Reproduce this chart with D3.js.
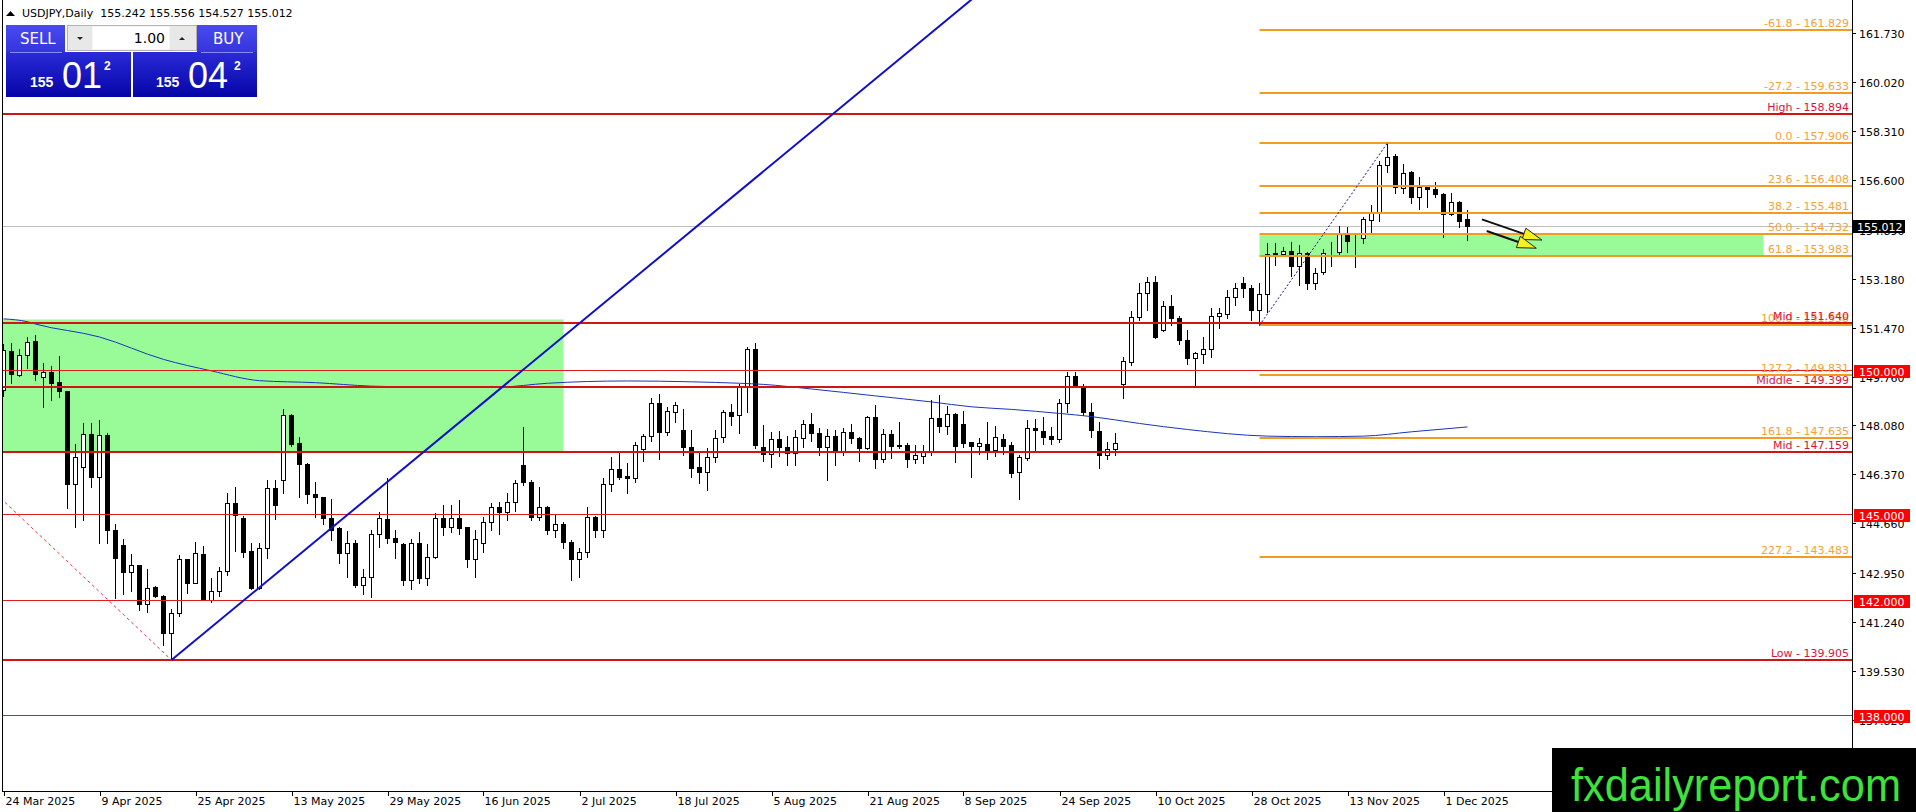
<!DOCTYPE html>
<html>
<head>
<meta charset="utf-8">
<script src="https://cdn.jsdelivr.net/npm/d3@7"></script>
<style>
  html, body { margin: 0; padding: 0; background: #fff; overflow: hidden; }
  svg { display: block; }
  text { font-family: "DejaVu Sans", sans-serif; font-size: 11px; }
</style>
</head>
<body>
<svg id="chart" width="1916" height="812"></svg>
<script>
// ---- data (USDJPY daily, 24 Mar 2025 .. 4 Dec 2025) ----
const symbol = 'USDJPY,Daily';
const opens = [
  149.30,150.66,149.83,150.52,151.01,149.75,149.94,149.59,149.28,146.02,
  146.61,147.79,146.26,147.74,144.43,143.91,142.98,143.21,141.84,142.44,
  142.14,140.84,141.55,143.44,142.60,143.60,142.00,142.32,143.02,145.36,
  144.84,143.71,142.40,143.79,145.88,146.19,148.43,147.45,146.73,145.67,
  145.57,144.84,144.49,143.64,143.97,142.52,142.81,144.31,144.80,144.14,
  143.94,142.69,143.97,142.75,143.50,144.84,144.55,144.84,144.52,143.44,
  143.99,144.72,145.24,145.07,145.42,146.70,146.11,144.90,145.22,144.42,
  144.63,144.03,143.42,143.65,144.87,144.45,146.03,146.54,146.31,146.23,
  147.24,147.70,148.84,147.85,148.55,147.91,147.33,146.61,146.46,146.96,
  147.66,148.53,148.43,149.44,150.72,147.31,147.08,147.60,147.33,147.10,
  147.62,148.11,147.80,147.33,147.71,147.19,147.83,147.62,147.30,148.35,
  146.89,147.76,147.39,147.39,146.89,147.02,147.13,148.32,148.06,148.46,
  148.11,147.48,147.37,147.42,147.22,147.60,147.39,146.46,146.93,147.97,
  147.89,147.70,147.60,148.87,149.79,149.45,148.55,147.89,147.04,147.24,
  149.50,150.29,151.86,152.67,153.05,151.39,152.24,151.80,151.04,150.41,
  150.56,150.72,151.89,151.95,152.55,153.02,152.84,152.09,152.65,154.04,
  154.04,154.15,153.63,154.06,153.02,153.42,154.12,154.12,154.73,154.55,
  154.58,155.22,155.48,157.14,157.45,156.32,156.88,156.01,156.36,156.30,
  156.11,155.43,155.86,155.242
];
const highs = [
  150.90,150.95,150.72,151.14,151.23,150.23,150.14,150.49,149.28,147.42,
  148.14,148.14,148.26,147.82,144.64,144.11,143.60,143.21,143.06,142.49,
  142.17,141.67,143.56,143.44,144.00,143.87,142.75,143.16,145.73,145.92,
  144.92,143.97,143.97,146.17,146.17,148.64,148.47,147.68,146.75,146.09,
  145.57,145.50,144.55,144.41,144.08,143.06,144.45,145.07,146.23,144.43,
  143.97,144.11,144.37,143.94,145.01,145.30,145.30,145.47,144.55,144.43,
  144.90,145.38,145.41,145.73,146.19,148.03,146.17,145.94,145.27,144.95,
  144.70,144.10,143.80,145.24,144.92,146.23,146.96,147.12,146.77,147.51,
  147.76,149.02,149.15,148.70,148.90,148.63,147.91,147.16,147.27,147.91,
  148.61,148.82,149.51,150.81,150.93,148.09,147.83,147.88,147.70,147.91,
  148.26,148.49,147.97,147.95,147.91,147.97,148.11,147.66,148.40,148.78,
  147.95,147.93,148.20,147.45,147.39,147.39,148.95,149.13,148.76,148.49,
  148.57,147.50,147.62,148.18,148.06,147.76,147.50,147.05,148.26,148.29,
  148.35,148.03,148.98,149.94,149.94,149.51,148.84,148.20,147.50,147.80,
  150.47,152.05,153.02,153.25,153.27,152.41,152.61,151.88,151.39,150.63,
  151.16,152.15,152.15,152.79,153.04,153.23,152.95,153.04,154.41,154.41,
  154.27,154.47,154.35,154.12,153.54,154.20,154.47,155.01,154.99,154.73,
  155.31,155.74,157.29,157.906,157.52,157.16,156.94,156.71,156.44,156.56,
  156.15,156.15,155.89,155.556
];
const lows = [
  149.10,149.54,149.79,150.06,149.65,148.70,148.96,149.07,145.19,144.55,
  144.78,145.94,143.99,143.99,142.05,142.20,142.30,141.65,141.59,142.11,
  140.43,139.905,141.44,142.25,142.60,141.98,141.94,142.13,142.87,143.71,
  143.50,142.37,142.37,143.45,144.80,145.71,147.36,145.59,145.38,144.90,
  144.64,144.08,143.27,142.80,142.44,142.20,142.11,143.83,143.97,143.45,
  142.52,142.37,142.60,142.52,143.45,144.26,144.37,144.31,143.15,142.80,
  143.68,144.43,144.31,144.78,145.10,145.99,144.78,144.78,144.30,144.20,
  143.80,142.68,142.80,143.50,144.20,144.20,145.80,146.20,145.73,146.11,
  146.85,147.54,146.89,147.74,148.20,147.04,146.29,146.08,145.82,146.81,
  147.51,148.09,147.80,148.55,147.27,146.84,146.61,147.00,146.69,146.69,
  147.33,147.54,147.04,146.17,146.69,147.04,147.45,146.84,147.24,146.58,
  146.81,146.95,147.27,146.63,146.75,146.77,147.04,147.85,147.77,146.81,
  147.31,146.29,147.08,146.92,147.01,147.08,146.26,145.50,146.87,147.16,
  147.42,147.42,147.50,148.55,149.42,148.43,147.66,146.60,146.90,147.04,
  149.01,150.17,151.74,152.09,151.10,151.37,151.57,150.89,150.20,149.42,
  150.25,150.44,151.48,151.80,152.26,152.55,151.74,151.558,152.03,153.65,
  153.97,153.28,152.96,152.81,152.81,153.34,153.62,153.97,154.12,153.60,
  154.41,154.82,155.20,156.88,156.17,156.17,155.80,155.60,155.69,156.03,
  154.64,155.40,154.99,154.527
];
const closes = [
  150.70,149.85,150.52,150.99,149.85,149.94,149.56,149.28,146.02,146.96,
  147.79,146.26,147.74,144.43,143.47,142.98,143.21,141.84,142.40,142.14,
  140.84,141.55,143.44,142.60,143.64,142.00,142.32,143.02,145.36,144.95,
  143.68,142.40,143.79,145.88,145.30,148.43,147.42,146.72,145.67,145.59,
  144.84,144.43,143.64,143.97,142.52,142.81,144.31,144.84,144.14,144.03,
  142.69,143.97,142.75,143.50,144.84,144.55,144.84,144.49,143.44,144.11,
  144.72,145.24,145.07,145.42,146.08,146.11,144.90,145.22,144.42,144.63,
  144.03,143.42,143.65,144.87,144.45,146.05,146.54,146.29,146.23,147.39,
  147.70,148.84,147.85,148.57,148.78,147.33,146.60,146.46,146.96,147.62,
  148.53,148.40,149.44,150.72,147.39,147.08,147.60,147.33,147.10,147.68,
  148.11,147.82,147.33,147.71,147.19,147.83,147.62,147.30,148.35,146.89,
  147.76,147.37,147.35,146.89,147.04,147.13,148.32,148.06,148.46,147.37,
  147.47,147.37,147.45,147.22,147.66,147.35,146.43,146.99,147.97,147.91,
  147.68,147.60,148.87,149.79,149.45,148.55,147.91,147.04,147.24,147.45,
  150.33,151.86,152.67,153.05,151.14,152.24,151.80,151.04,150.41,150.61,
  150.72,151.89,151.97,152.55,152.84,152.84,152.09,152.65,154.04,154.06,
  154.15,153.63,154.06,153.02,153.39,154.08,154.10,154.73,154.50,154.57,
  155.24,155.48,157.14,157.43,156.36,156.87,156.01,156.36,156.29,156.11,
  155.43,155.86,155.20,155.012
];

// 200-day moving average, read at sample bars
const maBars   = [0, 3, 4, 12, 20, 26, 32, 39, 46, 50, 62, 68, 78, 86, 92, 95, 101, 109, 116, 121, 126, 132, 136, 142, 148, 158, 164, 170, 176, 183];
const maValues = [151.78,151.68,151.60,151.15,150.37,149.97,149.63,149.56,149.44,149.42,149.41,149.54,149.62,149.59,149.54,149.50,149.34,149.10,148.89,148.72,148.63,148.49,148.38,148.14,147.93,147.70,147.68,147.70,147.85,148.02];

const priceTicks = [161.730,160.020,158.310,156.600,154.890,153.180,151.470,149.760,148.080,146.370,144.660,142.950,141.240,139.530,137.820];
const dateTicks = ['2025-03-24','2025-04-09','2025-04-25','2025-05-13','2025-05-29','2025-06-16','2025-07-02','2025-07-18',
                   '2025-08-05','2025-08-21','2025-09-08','2025-09-24','2025-10-10','2025-10-28','2025-11-13','2025-12-01'];

const levelNames  = ['High', 'Mid', 'Middle', 'Mid', 'Low'];
const levelValues = [158.894, 151.640, 149.399, 147.159, 139.905];
const roundLevels = [150.000, 145.000, 142.000, 138.000];

const fibRatios = [-61.8, -27.2, 0.0, 23.6, 38.2, 50.0, 61.8, 100.0, 127.2, 161.8, 227.2];
const fibValues = [161.829, 159.633, 157.906, 156.408, 155.481, 154.732, 153.983, 151.558, 149.831, 147.635, 143.483];
const fibFrom = [157, 151.558];   // bar, price
const fibTo   = [173, 157.906];

const zones = [
  { bars: [-2, 70],   prices: [151.76, 147.159] },
  { bars: [157, 220], prices: [154.732, 153.983] }
];
const trendA = [[21, 139.905], [62, 149.33]];      // rising blue trend line (ray)
const trendB = [[-51, 158.894], [21, 139.905]];    // dashed High -> Low
const arrows = [
  { from: [184.8, 155.245], to: [192.3, 154.525] },
  { from: [185.4, 154.840], to: [191.6, 154.240] }
];
const lastPrice = 155.012;
const header = [155.242, 155.556, 154.527, 155.012];

// ---- layout ----
const W = 1916, H = 812;
const plot = { left: 2, right: 1852, top: 0, bottom: 791 };
const dates = d3.timeDays(new Date(2025, 2, 24), new Date(2025, 11, 5)).filter(d => d.getDay() % 6 !== 0);
const iso = d3.timeFormat('%Y-%m-%d');
const fmtDate = d3.timeFormat('%-d %b %Y');
const f3 = d3.format('.3f');

const x = d3.scaleLinear().domain([0, 231]).range([3.5, 3.5 + 8 * 231]);
const y = d3.scaleLinear().domain([161.73, 137.82]).range([33, 720]);
const ry = v => Math.round(y(v));

const svg = d3.select('#chart');
svg.append('rect').attr('width', W).attr('height', H).attr('fill', '#fff');

const defs = svg.append('defs');
defs.append('clipPath').attr('id', 'plotClip').append('rect')
  .attr('x', plot.left + 1).attr('y', plot.top)
  .attr('width', plot.right - plot.left - 1).attr('height', plot.bottom - plot.top);

const g = svg.append('g').attr('clip-path', 'url(#plotClip)');

// zones
g.selectAll('.zone').data(zones).enter().append('rect')
  .attr('x', d => x(d.bars[0])).attr('width', d => x(d.bars[1]) - x(d.bars[0]))
  .attr('y', d => y(d.prices[0])).attr('height', d => y(d.prices[1]) - y(d.prices[0]))
  .attr('fill', '#98fb98');

// current price line
g.append('line').attr('x1', plot.left).attr('x2', plot.right)
  .attr('y1', ry(lastPrice) + 0.5).attr('y2', ry(lastPrice) + 0.5)
  .attr('stroke', '#c0c0c0').attr('stroke-width', 1);

// candles
const bars = d3.range(opens.length);
const cg = g.append('g').attr('shape-rendering', 'crispEdges');
cg.selectAll('.wick').data(bars).enter().append('line')
  .attr('x1', i => x(i)).attr('x2', i => x(i))
  .attr('y1', i => ry(highs[i])).attr('y2', i => ry(lows[i]) + 1)
  .attr('stroke', '#000');
cg.selectAll('.body').data(bars).enter().append('rect')
  .attr('x', i => x(i) - 2)
  .attr('width', 4)
  .attr('y', i => ry(Math.max(opens[i], closes[i])) + 0.5)
  .attr('height', i => Math.max(ry(Math.min(opens[i], closes[i])) - ry(Math.max(opens[i], closes[i])), 0))
  .attr('fill', i => closes[i] >= opens[i] ? '#fff' : '#000')
  .attr('stroke', '#000');

// moving average
g.append('path')
  .attr('d', d3.line().x(i => x(maBars[i])).y(i => y(maValues[i])).curve(d3.curveMonotoneX)(d3.range(maBars.length)))
  .attr('fill', 'none').attr('stroke', '#1c34b8').attr('stroke-width', 1);

// round number levels (thin)
g.selectAll('.round').data(roundLevels).enter().append('line')
  .attr('x1', plot.left).attr('x2', plot.right)
  .attr('y1', v => ry(v) + 0.5).attr('y2', v => ry(v) + 0.5)
  .attr('stroke', '#dd1c1c').attr('stroke-width', 1);

// fibonacci lines
g.selectAll('.fib').data(fibValues).enter().append('line')
  .attr('x1', x(fibFrom[0])).attr('x2', plot.right)
  .attr('y1', v => ry(v)).attr('y2', v => ry(v))
  .attr('stroke', '#f39a23').attr('stroke-width', 2);

// high / mid / low levels (thick)
g.selectAll('.lvl').data(levelValues).enter().append('line')
  .attr('x1', plot.left).attr('x2', plot.right)
  .attr('y1', v => ry(v)).attr('y2', v => ry(v))
  .attr('stroke', '#cf1515').attr('stroke-width', 2);

// fib diagonal
g.append('line')
  .attr('x1', x(fibFrom[0])).attr('y1', y(fibFrom[1]))
  .attr('x2', x(fibTo[0])).attr('y2', y(fibTo[1]))
  .attr('stroke', '#14147a').attr('stroke-width', 1).attr('stroke-dasharray', '2,2');

// dashed High -> Low diagonal
g.append('line')
  .attr('x1', x(trendB[0][0])).attr('y1', y(trendB[0][1]))
  .attr('x2', x(trendB[1][0])).attr('y2', y(trendB[1][1]))
  .attr('stroke', '#e03a3a').attr('stroke-width', 1).attr('stroke-dasharray', '3,3');

// rising trend line, extended as a ray
const slope = (trendA[1][1] - trendA[0][1]) / (trendA[1][0] - trendA[0][0]);
const rayEnd = 140;
g.append('line')
  .attr('x1', x(trendA[0][0])).attr('y1', y(trendA[0][1]))
  .attr('x2', x(rayEnd)).attr('y2', y(trendA[0][1] + slope * (rayEnd - trendA[0][0])))
  .attr('stroke', '#1010c8').attr('stroke-width', 2);

// arrows
arrows.forEach(a => {
  const x1 = x(a.from[0]), y1 = y(a.from[1]), x2 = x(a.to[0]), y2 = y(a.to[1]);
  const ang = Math.atan2(y2 - y1, x2 - x1);
  const len = 19, half = 6;
  const bx = x2 - len * Math.cos(ang), by = y2 - len * Math.sin(ang);
  g.append('line').attr('x1', x1).attr('y1', y1).attr('x2', bx).attr('y2', by)
    .attr('stroke', '#111').attr('stroke-width', 2);
  const pts = [
    [x2, y2],
    [bx + half * Math.sin(ang), by - half * Math.cos(ang)],
    [bx - half * Math.sin(ang), by + half * Math.cos(ang)]
  ];
  g.append('polygon').attr('points', pts.map(p => p.join(',')).join(' '))
    .attr('fill', '#f5f01e').attr('stroke', '#222').attr('stroke-width', 1);
});

// level labels
const labelX = plot.right - 3;
svg.selectAll('.fibLabel').data(fibValues).enter().append('text')
  .attr('x', labelX).attr('y', v => ry(v) - 3)
  .attr('text-anchor', 'end').attr('fill', '#f2a23a')
  .text((v, i) => `${fibRatios[i].toFixed(1)} - ${f3(v)}`);
svg.selectAll('.lvlLabel').data(levelValues).enter().append('text')
  .attr('x', labelX).attr('y', v => ry(v) - 3)
  .attr('text-anchor', 'end').attr('fill', '#d8143a')
  .text((v, i) => `${levelNames[i]} - ${f3(v)}`);

// frame and axes
svg.append('line').attr('x1', plot.left + 0.5).attr('x2', plot.left + 0.5)
  .attr('y1', plot.top).attr('y2', plot.bottom).attr('stroke', '#000');
svg.append('line').attr('x1', plot.right + 0.5).attr('x2', plot.right + 0.5)
  .attr('y1', plot.top).attr('y2', plot.bottom + 1).attr('stroke', '#000');
svg.append('line').attr('x1', plot.left).attr('x2', plot.right + 1)
  .attr('y1', plot.bottom + 0.5).attr('y2', plot.bottom + 0.5).attr('stroke', '#000');

const yAxis = svg.append('g');
priceTicks.forEach(v => {
  yAxis.append('line').attr('x1', plot.right).attr('x2', plot.right + 4)
    .attr('y1', ry(v) + 0.5).attr('y2', ry(v) + 0.5).attr('stroke', '#000');
  yAxis.append('text').attr('x', plot.right + 7).attr('y', ry(v) + 4.5)
    .attr('fill', '#000').text(f3(v));
});

const xAxis = svg.append('g');
dateTicks.forEach(s => {
  const i = dates.findIndex(d => iso(d) === s);
  const tx = Math.round(x(i)) + 0.5;
  xAxis.append('line').attr('x1', tx).attr('x2', tx)
    .attr('y1', plot.bottom).attr('y2', plot.bottom + 5).attr('stroke', '#000');
  xAxis.append('text').attr('x', tx + 1).attr('y', plot.bottom + 14)
    .attr('fill', '#000').text(fmtDate(dates[i]));
});

// price boxes on the axis
roundLevels.forEach(v => {
  svg.append('rect').attr('x', plot.right + 2).attr('y', ry(v) - 5)
    .attr('width', 56).attr('height', 13).attr('fill', '#ff0000');
  svg.append('text').attr('x', plot.right + 7).attr('y', ry(v) + 5.5)
    .attr('fill', '#fff').text(f3(v));
});
svg.append('rect').attr('x', plot.right + 1).attr('y', ry(lastPrice) - 6)
  .attr('width', 52).attr('height', 13).attr('fill', '#000');
svg.append('text').attr('x', plot.right + 5).attr('y', ry(lastPrice) + 4.5)
  .attr('fill', '#fff').text(f3(lastPrice));

// header
svg.append('polygon').attr('points', '6,16 10.5,11 15,16').attr('fill', '#000');
svg.append('text').attr('x', 22).attr('y', 17).attr('fill', '#000')
  .style('white-space', 'pre')
  .text(`${symbol}  ${header.map(f3).join(' ')}`);

// one-click trading panel
const grad1 = defs.append('linearGradient').attr('id', 'btnGrad').attr('x1', 0).attr('x2', 0).attr('y1', 0).attr('y2', 1);
grad1.append('stop').attr('offset', 0).attr('stop-color', '#4a4af0');
grad1.append('stop').attr('offset', 1).attr('stop-color', '#3434dc');
const grad2 = defs.append('linearGradient').attr('id', 'boxGrad').attr('x1', 0).attr('x2', 0).attr('y1', 0).attr('y2', 1);
grad2.append('stop').attr('offset', 0).attr('stop-color', '#2a2ad8');
grad2.append('stop').attr('offset', 1).attr('stop-color', '#0505a6');

const panel = svg.append('g');
panel.append('rect').attr('x', 6).attr('y', 25).attr('width', 59).attr('height', 28).attr('fill', 'url(#btnGrad)');
panel.append('rect').attr('x', 197).attr('y', 25).attr('width', 60).attr('height', 28).attr('fill', 'url(#btnGrad)');
panel.append('rect').attr('x', 6).attr('y', 52).attr('width', 125).attr('height', 45).attr('fill', 'url(#boxGrad)');
panel.append('rect').attr('x', 133).attr('y', 52).attr('width', 124).attr('height', 45).attr('fill', 'url(#boxGrad)');
panel.append('line').attr('x1', 10).attr('x2', 62).attr('y1', 52.5).attr('y2', 52.5).attr('stroke', '#8a8aff');
panel.append('line').attr('x1', 201).attr('x2', 253).attr('y1', 52.5).attr('y2', 52.5).attr('stroke', '#8a8aff');
panel.append('rect').attr('x', 67.5).attr('y', 25.5).attr('width', 129).attr('height', 25)
  .attr('fill', '#e8e8e8').attr('stroke', '#b4b4b4');
panel.append('rect').attr('x', 92.5).attr('y', 26.5).attr('width', 77).attr('height', 23).attr('fill', '#fff');
panel.append('polygon').attr('points', '77,37 83,37 80,40').attr('fill', '#222');
panel.append('polygon').attr('points', '179,40 185,40 182,37').attr('fill', '#222');
panel.append('text').attr('x', 165).attr('y', 43).attr('text-anchor', 'end')
  .style('font-size', '14px').attr('fill', '#000').text('1.00');
panel.append('text').attr('x', 20).attr('y', 44).style('font-size', '15px').attr('fill', '#fff').text('SELL');
panel.append('text').attr('x', 213).attr('y', 44).style('font-size', '15px').attr('fill', '#fff').text('BUY');

const bid = '155.012', ask = '155.042';
[[bid, 30, 62, 104], [ask, 156, 188, 234]].forEach(([p, x0, x1, x2]) => {
  panel.append('text').attr('x', x0).attr('y', 87).attr('fill', '#fff')
    .style('font-family', '"Liberation Sans", Arial, sans-serif').style('font-size', '14px').style('font-weight', 'bold')
    .text(p.slice(0, 3));
  panel.append('text').attr('x', x1).attr('y', 88).attr('fill', '#fff')
    .style('font-family', '"Liberation Sans", Arial, sans-serif').style('font-size', '36px')
    .text(p.slice(4, 6));
  panel.append('text').attr('x', x2).attr('y', 70).attr('fill', '#fff')
    .style('font-family', '"Liberation Sans", Arial, sans-serif').style('font-size', '12px').style('font-weight', 'bold')
    .text(p.slice(6));
});

// watermark
svg.append('rect').attr('x', 1552).attr('y', 748).attr('width', 364).attr('height', 64).attr('fill', '#000');
svg.append('text').attr('x', 1571).attr('y', 801)
  .attr('textLength', 330).attr('lengthAdjust', 'spacingAndGlyphs')
  .style('font-family', '"Liberation Sans", Arial, sans-serif').style('font-size', '46px')
  .attr('fill', '#3ee23a').text('fxdailyreport.com');
</script>
</body>
</html>
